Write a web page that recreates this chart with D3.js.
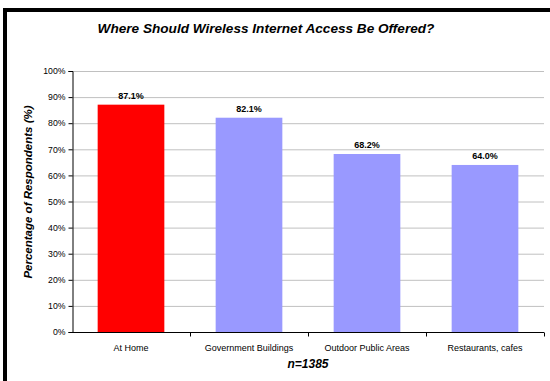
<!DOCTYPE html>
<html><head><meta charset="utf-8">
<script src="https://cdn.jsdelivr.net/npm/d3@7/dist/d3.min.js"></script>
<style>html,body{margin:0;background:#fff;overflow:hidden}svg{display:block}text{font-family:"Liberation Sans",Arial,sans-serif}</style>
</head><body><svg id="c" width="550" height="381"></svg>
<script>
const categories = ["At Home", "Government Buildings", "Outdoor Public Areas", "Restaurants, cafes"];
const values = [87.1, 82.1, 68.2, 64.0];
const barColors = ["#FF0000", "#9999FF", "#9999FF", "#9999FF"];
const yTicks = [0,10,20,30,40,50,60,70,80,90,100];
const title = "Where Should Wireless Internet Access Be Offered?";
const yTitle = "Percentage of Respondents (%)";
const xTitle = "n=1385";

const svg = d3.select("#c");
svg.append("rect").attr("width",550).attr("height",381).attr("fill","#fff");
// frame (top and left black edges only visible)
svg.append("path").attr("d","M5,381 L5,10 L550,10")
  .attr("fill","none").attr("stroke","#000").attr("stroke-width",4);

const L=72, R=544, T=71, B=332;
const x = d3.scaleBand().domain(categories).range([L,R]).paddingInner(0.435).paddingOuter(0.2175);
const xb = d3.scaleBand().domain(categories).range([L,R]);
const y = d3.scaleLinear().domain([0,100]).range([B,T]);

// gridlines
svg.append("g").selectAll("line").data(yTicks.filter(d=>d>0)).join("line")
  .attr("x1",L).attr("x2",R).attr("y1",d=>y(d)+0.5).attr("y2",d=>y(d)+0.5)
  .attr("stroke","#C0C0C0").attr("stroke-width",1);

// bars
svg.append("g").selectAll("rect").data(values).join("rect")
  .attr("x",(d,i)=>x(categories[i])).attr("width",x.bandwidth())
  .attr("y",d=>y(d)).attr("height",d=>B-y(d)).attr("fill",(d,i)=>barColors[i]);

// y axis
const ya = svg.append("g").attr("transform",`translate(${L+0.5},0)`)
  .call(d3.axisLeft(y).tickValues(yTicks).tickFormat(d=>d+"%").tickSize(4).tickPadding(3));
ya.selectAll("text").attr("font-size","8.7px").attr("fill","#000");
ya.selectAll("line,path").attr("stroke","#000");

// x axis
const xa = svg.append("g").attr("transform",`translate(0,${B+0.5})`);
xa.append("line").attr("x1",L).attr("x2",R).attr("stroke","#000");
const bounds = categories.slice(1).map(d=>xb(d)).concat([R-0.5]);
xa.selectAll("line.t").data(bounds).join("line").attr("class","t")
  .attr("x1",d=>Math.round(d)+0.5).attr("x2",d=>Math.round(d)+0.5)
  .attr("y1",0).attr("y2",4).attr("stroke","#000");
xa.selectAll("text").data(categories).join("text")
  .attr("x",d=>xb(d)+xb.bandwidth()/2).attr("y",18).attr("text-anchor","middle")
  .attr("font-size","9px").attr("fill","#000").text(d=>d);

// value labels
svg.append("g").selectAll("text").data(values).join("text")
  .attr("x",(d,i)=>x(categories[i])+x.bandwidth()/2).attr("y",d=>y(d)-6)
  .attr("text-anchor","middle").attr("font-size","9px").attr("font-weight","bold")
  .text(d=>d.toFixed(1)+"%");

// titles
svg.append("text").attr("x",266).attr("y",33).attr("text-anchor","middle")
  .attr("font-size","13.6px").attr("font-weight","bold").attr("font-style","italic").text(title);
svg.append("text").attr("transform",`translate(32,192) rotate(-90)`).attr("text-anchor","middle")
  .attr("font-size","11.5px").attr("font-weight","bold").attr("font-style","italic").text(yTitle);
svg.append("text").attr("x",308).attr("y",368).attr("text-anchor","middle")
  .attr("font-size","12px").attr("font-weight","bold").attr("font-style","italic").text(xTitle);
</script></body></html>
